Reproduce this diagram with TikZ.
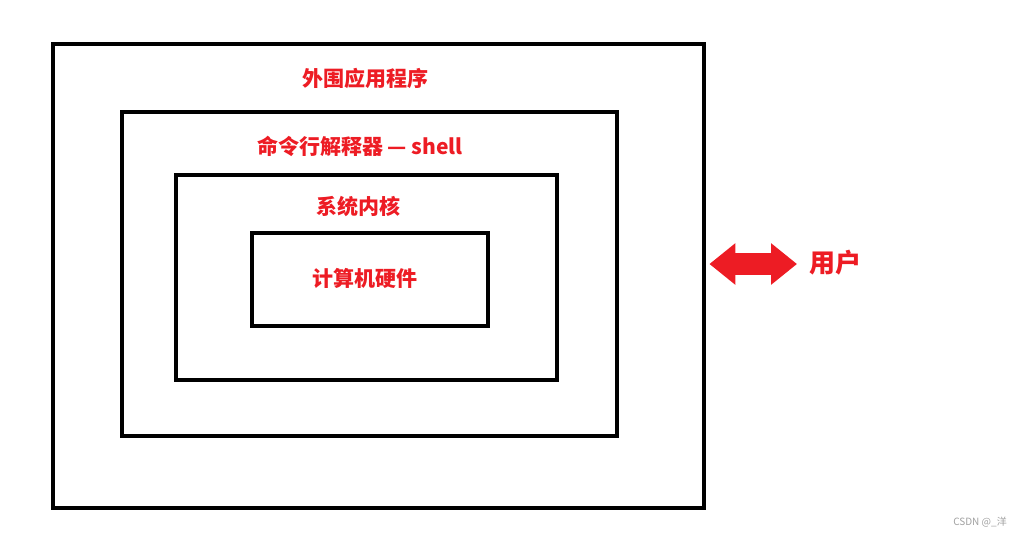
\documentclass[tikz,border=0pt]{standalone}
\usepackage{fontspec}
\setmainfont{Noto Sans CJK SC}
\usetikzlibrary{arrows.meta,positioning}
\definecolor{Ink}{HTML}{000000}
\definecolor{Alert}{HTML}{ED1C24}
\definecolor{Mark}{HTML}{A0A0A0}
\tikzset{
  layer/.style={
    rectangle, draw=Ink, line width=4.8pt, inner sep=0pt
  },
  caption/.style={
    text=Alert, font=\fontsize{21}{24}\selectfont\bfseries, inner sep=0pt
  },
  biarrow/.style={
    {Triangle[length=26pt,width=40pt]}-{Triangle[length=26pt,width=40pt]},
    line width=22pt, draw=Alert
  }
}

\begin{document}
\begin{tikzpicture}[x=1pt,y=-1pt]
    \useasboundingbox (0,0) rectangle (1019,536);
    \node[layer,minimum width=651pt,minimum height=464pt] (app) at (378.5,276) {};
    \node[layer,minimum width=495pt,minimum height=324pt] (shell) at (369.5,274) {};
    \node[layer,minimum width=381pt,minimum height=205pt] (kernel) at (366.5,277.5) {};
    \node[layer,minimum width=236pt,minimum height=93pt] (hw) at (370,279.5) {};
    \node[caption] (tapp) at (365,78) {外围应用程序};
    \node[caption] (tshell) at (360,146) {命令行解释器 — shell};
    \node[caption] (tkernel) at (358,206) {系统内核};
    \node[caption] (thw) at (365,278) {计算机硬件};
    \node[caption,font=\fontsize{26}{29}\selectfont\bfseries,anchor=west] (user) at (809,263) {用户};
    \coordinate (linkA) at ([xshift=3pt]app.east |- 0,264);
    \draw[biarrow] (linkA) -- ([xshift=-12pt]user.west |- linkA);
    \node[text=Mark,font=\fontsize{10}{11}\selectfont,inner sep=0pt] (mark) at (980,522) {CSDN @\_洋};
\end{tikzpicture}
\end{document}
